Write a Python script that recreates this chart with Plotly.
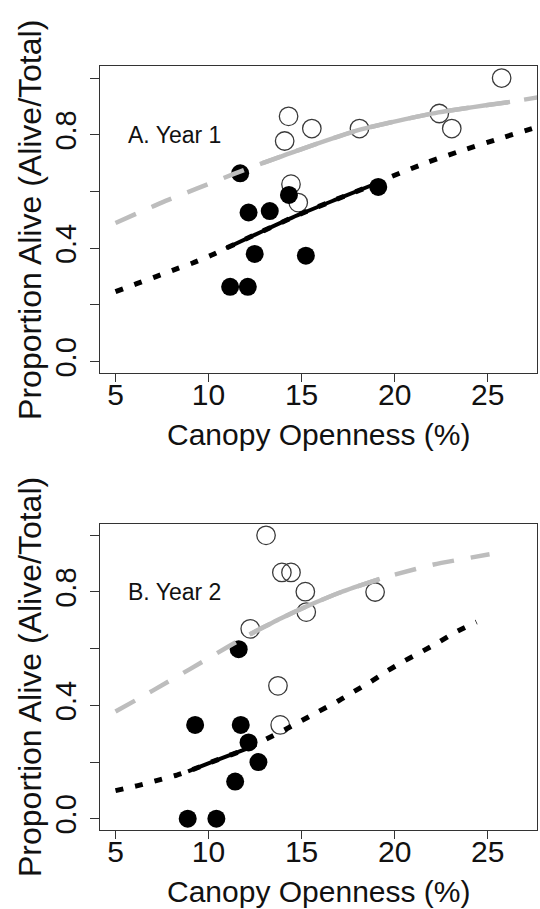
import numpy as np
import plotly.graph_objects as go

# ---------------- data ----------------
# Panel A (Year 1)
y1_open_x = [14.30, 14.09, 15.55, 18.11, 22.40, 23.07, 25.75, 14.43, 14.82]
y1_open_y = [0.865, 0.778, 0.822, 0.822, 0.875, 0.822, 1.000, 0.626, 0.561]
y1_fill_x = [11.70, 12.15, 13.29, 14.32, 19.12, 12.48, 15.23, 11.16, 12.11]
y1_fill_y = [0.664, 0.526, 0.531, 0.588, 0.616, 0.380, 0.374, 0.264, 0.264]

y1_gray_x = [5.0, 7.48, 9.36, 11.33, 12.9, 14.93, 18.14, 22.35, 26.2, 27.8]
y1_gray_y = [0.489, 0.561, 0.610, 0.661, 0.700, 0.748, 0.818, 0.879, 0.916, 0.933]
y1_gray_solid = (12.9, 26.2)

y1_black_x = [5.0, 6.14, 7.18, 8.14, 9.15, 10.17, 10.94, 12.9, 14.91, 16.9, 18.77,
              19.84, 21.81, 23.78, 25.75, 27.72]
y1_black_y = [0.247, 0.275, 0.300, 0.324, 0.348, 0.376, 0.400, 0.460, 0.520, 0.573, 0.622,
              0.653, 0.704, 0.748, 0.789, 0.828]
y1_black_solid = (10.94, 18.77)

# Panel B (Year 2)
y2_open_x = [13.09, 13.94, 14.43, 15.20, 15.25, 18.95, 12.24, 13.73, 13.85]
y2_open_y = [1.000, 0.869, 0.869, 0.801, 0.729, 0.800, 0.670, 0.469, 0.331]
y2_fill_x = [11.62, 9.28, 11.73, 12.15, 12.68, 11.43, 8.88, 10.42]
y2_fill_y = [0.598, 0.331, 0.331, 0.269, 0.200, 0.131, 0.000, 0.000]

y2_gray_x = [5.0, 7.0, 9.0, 11.0, 12.2, 13.9, 15.3, 17.1, 19.2, 20.1, 22.1, 25.1]
y2_gray_y = [0.378, 0.452, 0.528, 0.605, 0.650, 0.707, 0.750, 0.799, 0.846, 0.863, 0.897, 0.933]
y2_gray_solid = (12.2, 19.2)

y2_black_x = [5.0, 6.2, 7.3, 8.3, 8.9, 10.4, 12.1, 13.1, 14.1, 15.0, 15.9, 16.9, 17.8,
              18.7, 19.6, 20.5, 21.5, 22.4, 23.3, 24.4]
y2_black_y = [0.099, 0.117, 0.136, 0.154, 0.167, 0.206, 0.248, 0.281, 0.314, 0.346, 0.378,
              0.413, 0.448, 0.483, 0.521, 0.556, 0.591, 0.624, 0.659, 0.694]
y2_black_solid = (8.9, 12.1)

panel_labels = ["A. Year 1", "B. Year 2"]
x_title = "Canopy Openness (%)"
y_title = "Proportion Alive (Alive/Total)"
x_ticks = [5, 10, 15, 20, 25]
y_ticks = [0.0, 0.2, 0.4, 0.6, 0.8, 1.0]
y_ticktext = ["0.0", "", "0.4", "", "0.8", ""]

# ---------------- styling ----------------
FONT = "Liberation Sans, Arial, Helvetica, sans-serif"
W, H = 540, 909
GRAY = "#bdbdbd"
BLACK = "#000000"

fig = go.Figure()


def subset(xs, ys, lo, hi):
    xs = np.asarray(xs)
    ys = np.asarray(ys)
    m = (xs >= lo - 1e-9) & (xs <= hi + 1e-9)
    return xs[m], ys[m]


def add_panel(xa, ya, ox, oy, fx, fy, gx, gy, gs, bx, by, bs):
    # open circles
    fig.add_trace(go.Scatter(x=ox, y=oy, mode="markers", xaxis=xa, yaxis=ya,
                             marker=dict(symbol="circle-open", size=18.5, color="#3a3a3a",
                                         line=dict(width=1.3, color="#3a3a3a")),
                             showlegend=False, hoverinfo="skip"))
    # filled circles
    fig.add_trace(go.Scatter(x=fx, y=fy, mode="markers", xaxis=xa, yaxis=ya,
                             marker=dict(symbol="circle", size=18, color=BLACK),
                             showlegend=False, hoverinfo="skip"))
    # gray curve (dashed whole, solid over fitted range)
    fig.add_trace(go.Scatter(x=gx, y=gy, mode="lines", xaxis=xa, yaxis=ya,
                             line=dict(color=GRAY, width=4.5, dash="22px,17px", shape="spline",
                                       smoothing=0.6),
                             showlegend=False, hoverinfo="skip"))
    sx, sy = subset(gx, gy, *gs)
    fig.add_trace(go.Scatter(x=sx, y=sy, mode="lines", xaxis=xa, yaxis=ya,
                             line=dict(color=GRAY, width=4.5, shape="spline", smoothing=0.6),
                             showlegend=False, hoverinfo="skip"))
    # black curve (dotted whole, solid over fitted range)
    fig.add_trace(go.Scatter(x=bx, y=by, mode="lines", xaxis=xa, yaxis=ya,
                             line=dict(color=BLACK, width=5, dash="8px,12px", shape="spline",
                                       smoothing=0.6),
                             showlegend=False, hoverinfo="skip"))
    sx, sy = subset(bx, by, *bs)
    fig.add_trace(go.Scatter(x=sx, y=sy, mode="lines", xaxis=xa, yaxis=ya,
                             line=dict(color=BLACK, width=4, shape="spline", smoothing=0.6),
                             showlegend=False, hoverinfo="skip"))


add_panel("x", "y", y1_open_x, y1_open_y, y1_fill_x, y1_fill_y,
          y1_gray_x, y1_gray_y, y1_gray_solid, y1_black_x, y1_black_y, y1_black_solid)
add_panel("x2", "y2", y2_open_x, y2_open_y, y2_fill_x, y2_fill_y,
          y2_gray_x, y2_gray_y, y2_gray_solid, y2_black_x, y2_black_y, y2_black_solid)

# plot box positions in pixels
left, right = 100, 537
top1, bot1 = 66.7, 375
top2, bot2 = 526, 834
xdom = [left / W, right / W]
ydom1 = [(H - bot1) / H, (H - top1) / H]
ydom2 = [(H - bot2) / H, (H - top2) / H]

xcommon = dict(range=[4.167, 27.65], tickvals=x_ticks, ticks="outside", ticklen=8,
               tickwidth=1, tickcolor="#333", showline=True, mirror=True, linecolor="#333",
               linewidth=1.3, showgrid=False, zeroline=False, ticklabelstandoff=-13,
               tickfont=dict(family=FONT, size=30, color="#111"), domain=xdom)
ycommon = dict(range=[-0.041, 1.041], tickvals=y_ticks, ticktext=y_ticktext,
               ticks="outside", ticklen=9, tickwidth=1, tickcolor="#333", showline=True,
               mirror=True, linecolor="#333", linewidth=1.3, showgrid=False, zeroline=False,
               tickangle=-90, ticklabelstandoff=2,
               tickfont=dict(family=FONT, size=29, color="#111"))

annotations = []
for i, (ydom, top, bot) in enumerate([(ydom1, top1, bot1), (ydom2, top2, bot2)]):
    xr = "x" if i == 0 else "x2"
    yr = "y" if i == 0 else "y2"
    annotations.append(dict(text=panel_labels[i], xref=xr, yref=yr, x=5.56, y=0.80,
                            xanchor="left", yanchor="middle", showarrow=False,
                            font=dict(family=FONT, size=23, color="#111")))
    annotations.append(dict(text=x_title, xref="paper", yref="paper",
                            x=(left + right) / 2 / W, y=(H - (bot + 61)) / H,
                            xanchor="center", yanchor="middle", showarrow=False,
                            font=dict(family=FONT, size=30, color="#111")))
    annotations.append(dict(text=y_title, xref="paper", yref="paper",
                            x=30 / W, y=(H - (top + bot) / 2) / H, textangle=-90,
                            xanchor="center", yanchor="middle", showarrow=False,
                            font=dict(family=FONT, size=32, color="#111")))

fig.update_layout(
    width=W, height=H,
    margin=dict(l=0, r=0, t=0, b=0),
    paper_bgcolor="white", plot_bgcolor="white",
    xaxis=dict(**xcommon, anchor="y"),
    yaxis=dict(**ycommon, domain=ydom1, anchor="x"),
    xaxis2=dict(**xcommon, anchor="y2"),
    yaxis2=dict(**ycommon, domain=ydom2, anchor="x2"),
    annotations=annotations,
    showlegend=False,
)

fig.write_html("out.html")
